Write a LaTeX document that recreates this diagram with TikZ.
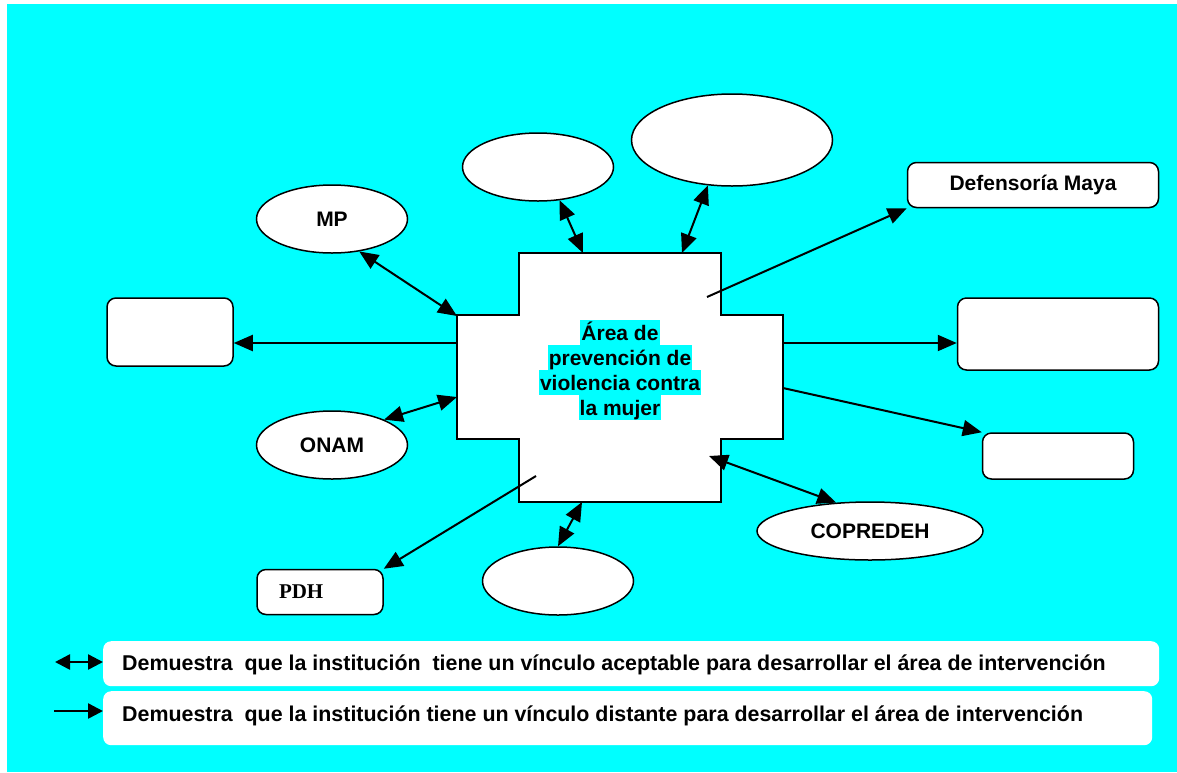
\documentclass[tikz,border=0pt]{standalone}
\usepackage{fontspec}
\setmainfont{Liberation Sans}
\newfontfamily\timesfont{Liberation Serif}
\usetikzlibrary{shapes.geometric,arrows.meta,positioning}

\definecolor{bgcyan}{HTML}{00FFFF}
\newcommand{\hlline}[1]{{\setlength{\fboxsep}{0pt}\colorbox{bgcyan}{\rule[-5pt]{0pt}{25pt}\kern1pt#1\kern1pt}}}

\tikzset{
  inst/.style={ellipse, draw, line width=1.5pt, fill=white, inner sep=0pt},
  instbox/.style={rectangle, rounded corners=9pt, draw, line width=1.5pt, fill=white, inner sep=0pt},
  legbox/.style={rectangle, rounded corners=8pt, fill=white, inner sep=0pt},
  link/.style={line width=2pt, ->},
  mutual/.style={line width=2pt, <->},
  keytip/.style={line width=2.5pt, >={Triangle[length=15pt,width=15pt]}}
}

\begin{document}
\begin{tikzpicture}[x=1pt, y=-1pt, >={Triangle[length=19pt,width=16pt]},
  font=\fontsize{21}{25}\selectfont\bfseries]
\useasboundingbox (0,0) rectangle (1177,772);
\fill[bgcyan] (7,4) rectangle (1177,772);

% area
\draw[line width=1.5pt, fill=white] (519,253) -- (721,253) -- (721,315) -- (783,315) -- (783,439) -- (721,439)
  -- (721,502) -- (519,502) -- (519,439) -- (457,439) -- (457,315) -- (519,315) -- cycle;
\node[align=center, inner sep=0pt] (area) at (620,370)
  {\hlline{Área de}\\\hlline{prevención de}\\\hlline{violencia contra}\\\hlline{la mujer}};

\coordinate (a-mp) at (457,316);
\coordinate (a-left) at (457,343);
\coordinate (a-onam) at (457,397);
\coordinate (a-top1) at (583,253);
\coordinate (a-top2) at (682,253);
\coordinate (a-maya) at (707,297);
\coordinate (a-right) at (783,343);
\coordinate (a-small) at (783,388);
\coordinate (a-copre) at (709,456);
\coordinate (a-bot) at (582,502);
\coordinate (a-pdh) at (536,476);

% institutions
\node[inst, minimum width=151pt, minimum height=68pt] (mp) at (332,219) {MP};
\node[inst, minimum width=151pt, minimum height=68pt] (onam) at (332,445) {ONAM};
\node[inst, minimum width=151pt, minimum height=68pt] (top1) at (538,167) {};
\node[inst, minimum width=201pt, minimum height=92pt] (top2) at (732,140) {};
\node[inst, minimum width=226pt, minimum height=58pt] (copredeh) at (870,531) {COPREDEH};
\node[inst, minimum width=151pt, minimum height=68pt] (bot) at (558,581) {};
\node[instbox, minimum width=126pt, minimum height=68pt] (lbox) at (170,332) {};
\node[instbox, minimum width=251pt, minimum height=45pt] (maya) at (1033,185) {Defensoría Maya};
\node[instbox, minimum width=201pt, minimum height=72pt] (rbox) at (1058,334) {};
\node[instbox, minimum width=151pt, minimum height=46pt] (sbox) at (1058,456) {};
\node[instbox, minimum height=45pt, inner xsep=22pt, text width=82pt, align=left,
  font=\timesfont\bfseries\fontsize{21}{25}\selectfont] (pdh) at (320,592) {PDH};

% links
\draw[mutual] (a-mp) -- (mp.-50);
\draw[link] (a-left) -- (a-left -| lbox.east);
\draw[mutual] (a-onam) -- (onam.26);
\draw[mutual] (a-top1) -- (top1.-57);
\draw[mutual] (a-top2) -- (top2.-118);
\draw[link] (a-maya) -- (maya.south west);
\draw[link] (a-right) -- (a-right -| rbox.west);
\draw[link] (a-small) -- (sbox.north west);
\draw[mutual] (a-copre) -- (copredeh.140);
\draw[mutual] (a-bot) -- (bot.north);
\draw[link] (a-pdh) -- (pdh.north east);

% legend
\node[legbox, minimum width=1056pt, minimum height=45pt, anchor=north west] (leg1) at (103,641) {};
\node[legbox, minimum width=1049pt, minimum height=54pt, anchor=north west] (leg2) at (103,691) {};
\node[anchor=west, inner sep=0pt, font=\fontsize{21.4}{25}\selectfont\bfseries] (legtxt1) at (122,665)
  {Demuestra~ que la institución~ tiene un vínculo aceptable para desarrollar el área de intervención};
\node[anchor=west, inner sep=0pt, font=\fontsize{21.4}{25}\selectfont\bfseries] (legtxt2) at (122,716)
  {Demuestra~ que la institución tiene un vínculo distante para desarrollar el área de intervención};
\coordinate (key1) at (55,662);
\coordinate (key2) at (54,711);
\draw[mutual, keytip] (key1) -- (key1 -| leg1.west);
\draw[link, keytip] (key2) -- (key2 -| leg2.west);

\end{tikzpicture}
\end{document}
